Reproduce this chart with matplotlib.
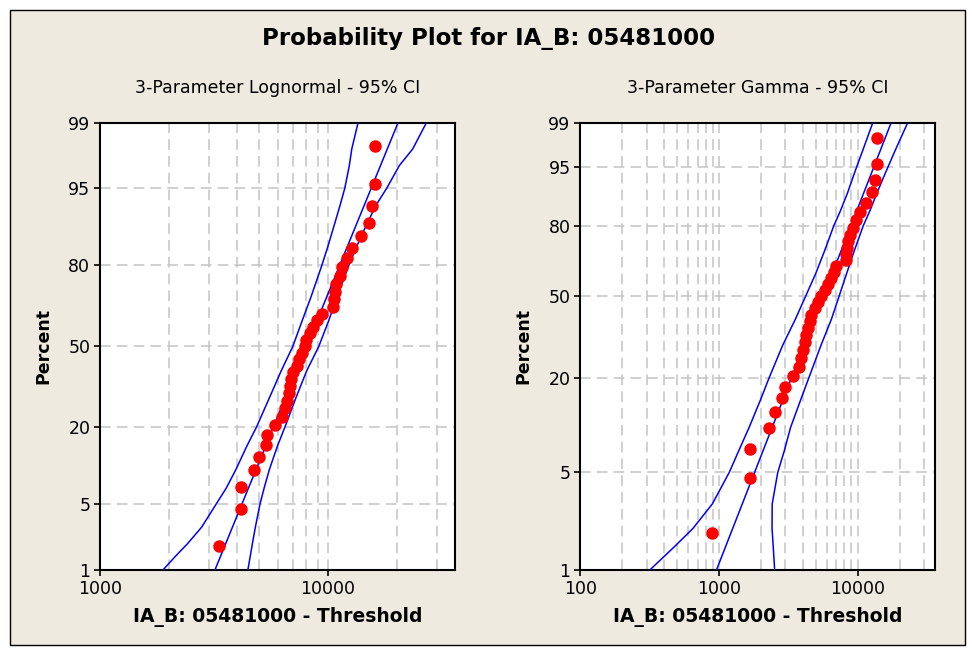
import numpy as np
import matplotlib
matplotlib.use("Agg")
import matplotlib.pyplot as plt
from matplotlib.patches import Rectangle
from matplotlib.ticker import LogLocator, NullFormatter
from statistics import NormalDist

# plotting positions (median ranks, n = 37)
pct = [1.87, 4.55, 7.22, 9.89, 12.57, 15.24, 17.91, 20.59, 23.26, 25.94,
       28.61, 31.28, 33.96, 36.63, 39.30, 41.98, 44.65, 47.33, 50.00, 52.67,
       55.35, 58.02, 60.70, 63.37, 66.04, 68.72, 71.39, 74.06, 76.74, 79.41,
       82.09, 84.76, 87.43, 90.11, 92.78, 95.45, 98.13]

# data - threshold, 3-parameter lognormal
logn_x = [3320, 4130, 4130, 4730, 4970, 5320, 5370, 5880, 6250, 6460,
          6630, 6710, 6800, 6900, 7030, 7270, 7480, 7650, 7900, 8040,
          8320, 8600, 8900, 9410, 10520, 10620, 10700, 10810, 11250, 11520,
          12110, 12740, 13870, 15080, 15590, 16130, 16130]

# data - threshold, 3-parameter gamma
gamma_x = [890, 1680, 1680, 2280, 2530, 2840, 3000, 3430, 3750, 3870,
           4020, 4180, 4250, 4370, 4490, 4620, 4880, 5160, 5450, 5760,
           6090, 6440, 6690, 6910, 8160, 8250, 8290, 8430, 8720, 9160,
           9710, 10290, 11490, 12610, 13340, 13700, 13700]

# fitted lines and 95% confidence bands
fit_pct = [1, 99]
logn_fit = [3190, 20260]
gamma_fit = [958, 17390]

ci_pct = [1, 1.5, 2, 3, 5, 7, 10, 15, 20, 30, 40, 50, 60, 70, 80, 85, 90,
          93, 95, 97, 98, 99]
logn_lo = [1887, 2168, 2417, 2790, 3222, 3574, 3942, 4405, 4850, 5555, 6232,
           7004, 7660, 8443, 9385, 9970, 10700, 11310, 11834, 12390, 12700,
           13534]
logn_hi = [4449, 4567, 4656, 4799, 5022, 5240, 5527, 5997, 6462, 7255, 8060,
           9105, 10010, 10990, 12321, 13330, 14847, 16290, 18072, 20530,
           23496, 26980]
gamma_lo = [317, 484, 647, 894, 1184, 1384, 1646, 1995, 2289, 2868, 3545,
            4212, 4963, 5751, 6707, 7484, 8432, 9130, 9786, 10790, 11550,
            12820]
gamma_hi = [2516, 2455, 2410, 2415, 2649, 2950, 3275, 3884, 4426, 5418, 6448,
            7338, 8292, 9406, 10935, 12200, 13746, 15130, 16464, 18460, 20090,
            22890]

y_ticks = [1, 5, 20, 50, 80, 95, 99]
logn_xticks = [1000, 10000]
gamma_xticks = [100, 1000, 10000]
x_max = 36000

BG = "#EEEAE0"
GRID = "#C4C4C4"

nd = NormalDist()
_ppf = np.vectorize(nd.inv_cdf, otypes=[float])
_cdf = np.vectorize(nd.cdf, otypes=[float])


def norm_fwd(p):
    p = np.clip(np.asarray(p, dtype=float) / 100.0, 1e-6, 1 - 1e-6)
    return _ppf(p)


def norm_inv(z):
    return _cdf(np.asarray(z, dtype=float)) * 100.0


# gamma probability scale: log of gamma quantile (Wilson-Hilferty)
SHAPE = 3.4
GA = 1 - 1 / (9 * SHAPE)
GB = 1 / (3 * np.sqrt(SHAPE))


def gamma_fwd(p):
    z = norm_fwd(p)
    return 3 * np.log(np.maximum(GA + GB * z, 1e-6))


def gamma_inv(y):
    z = (np.exp(np.asarray(y, dtype=float) / 3) - GA) / GB
    return norm_inv(z)


def draw_panel(ax, scale_funcs, xs, fit_x, lo, hi, xmin, xticks, subtitle):
    ax.set_xscale("log")
    ax.set_yscale("function", functions=scale_funcs)

    ax.plot(lo, ci_pct, color="#0000FF", lw=1.1, zorder=3)
    ax.plot(hi, ci_pct, color="#0000FF", lw=1.1, zorder=3)
    ax.plot(fit_x, fit_pct, color="#0000FF", lw=1.1, zorder=3)
    ax.plot(xs, pct, "o", color="#FF0000", ms=9, mec="none", zorder=4)

    ax.set_xlim(xmin, x_max)
    ax.set_ylim(1, 99)
    ax.set_yticks(y_ticks)
    ax.set_yticklabels([str(t) for t in y_ticks])
    ax.set_xticks(xticks)
    ax.set_xticklabels([str(t) for t in xticks])
    ax.xaxis.set_minor_locator(LogLocator(base=10, subs=np.arange(2, 10)))
    ax.xaxis.set_minor_formatter(NullFormatter())
    ax.tick_params(which="minor", length=0)
    ax.tick_params(which="major", direction="out", length=4, width=1.2,
                   labelsize=12.5, pad=3)

    ax.grid(True, which="both", axis="x", color=GRID, lw=1.1, ls=(0, (7, 4)))
    ax.grid(True, which="major", axis="y", color=GRID, lw=1.1, ls=(0, (7, 4)))
    ax.set_axisbelow(True)
    for s in ax.spines.values():
        s.set_linewidth(1.5)

    ax.text(0.5, 1.078, subtitle, transform=ax.transAxes, ha="center",
            va="center", fontsize=12.5)
    ax.set_xlabel("IA_B: 05481000 - Threshold", fontsize=13.5,
                  fontweight="bold")
    ax.xaxis.set_label_coords(0.5, -0.105)
    ax.xaxis.label.set_verticalalignment("center")
    ax.set_ylabel("Percent", fontsize=12.5, fontweight="bold")
    ax.yaxis.set_label_coords(-0.16, 0.5)
    ax.yaxis.label.set_verticalalignment("center")


fig = plt.figure(figsize=(9.72, 6.56), dpi=100)
fig.patch.set_facecolor("white")
W, H = 972.0, 656.0
fig.patches.append(Rectangle((10 / W, 1 - 645 / H), 955 / W, 635 / H,
                             transform=fig.transFigure, facecolor=BG,
                             edgecolor="black", lw=1, zorder=-1))

ax1 = fig.add_axes([100 / W, 1 - 570 / H, 355 / W, 447.3 / H])
ax2 = fig.add_axes([580.3 / W, 1 - 570 / H, 354.7 / W, 447.3 / H])

draw_panel(ax1, (norm_fwd, norm_inv), logn_x, logn_fit, logn_lo, logn_hi,
           1000, logn_xticks, "3-Parameter Lognormal - 95% CI")
draw_panel(ax2, (gamma_fwd, gamma_inv), gamma_x, gamma_fit, gamma_lo, gamma_hi,
           100, gamma_xticks, "3-Parameter Gamma - 95% CI")

fig.text(489 / W, 1 - 38 / H, "Probability Plot for IA_B: 05481000",
         ha="center", va="center", fontsize=16.5, fontweight="bold")

fig.savefig("out.png", dpi=100, facecolor=fig.get_facecolor())
